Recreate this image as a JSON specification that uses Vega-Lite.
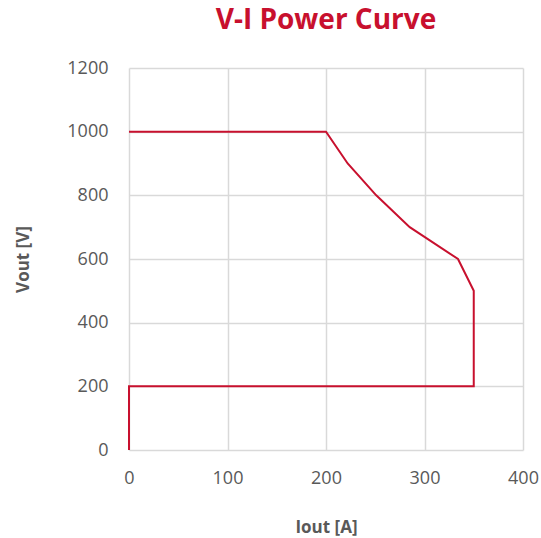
{
  "$schema": "https://vega.github.io/schema/vega-lite/v6.json",
  "width": 394,
  "height": 382,
  "autosize": {"type": "none"},
  "padding": {"left": 129, "top": 68, "right": 18, "bottom": 88},
  "background": "white",
  "title": {
    "text": "V-I Power Curve",
    "font": "Open Sans",
    "fontSize": 28,
    "fontWeight": "bold",
    "color": "#C8102E",
    "anchor": "middle",
    "offset": 24
  },
  "data": {
    "values": [
      {"i": 0, "v": 0, "o": 1},
      {"i": 0, "v": 200, "o": 2},
      {"i": 350, "v": 200, "o": 3},
      {"i": 350, "v": 500, "o": 4},
      {"i": 334, "v": 600, "o": 5},
      {"i": 285, "v": 700, "o": 6},
      {"i": 251, "v": 800, "o": 7},
      {"i": 222, "v": 900, "o": 8},
      {"i": 200, "v": 1000, "o": 9},
      {"i": 0, "v": 1000, "o": 10}
    ]
  },
  "mark": {"type": "line", "color": "#C8102E", "strokeWidth": 2},
  "encoding": {
    "x": {
      "field": "i",
      "type": "quantitative",
      "scale": {"domain": [0, 400], "nice": false},
      "axis": {
        "title": "Iout [A]",
        "values": [0, 100, 200, 300, 400],
        "format": "d",
        "labelFlush": false,
        "titleFont": "Open Sans", "titleFontSize": 17, "titleFontWeight": "bold", "titleColor": "#595959",
        "titlePadding": 32,
        "labelFont": "Open Sans", "labelFontSize": 18, "labelColor": "#595959", "labelPadding": 19,
        "domain": false, "ticks": false,
        "gridColor": "#D9D9D9", "gridWidth": 1.5
      }
    },
    "y": {
      "field": "v",
      "type": "quantitative",
      "scale": {"domain": [0, 1200], "nice": false},
      "axis": {
        "title": "Vout [V]",
        "values": [0, 200, 400, 600, 800, 1000, 1200],
        "format": "d",
        "labelFlush": false,
        "titleFont": "Open Sans", "titleFontSize": 17, "titleFontWeight": "bold", "titleColor": "#595959",
        "titlePadding": 34,
        "labelFont": "Open Sans", "labelFontSize": 18, "labelColor": "#595959", "labelPadding": 21,
        "domain": false, "ticks": false,
        "gridColor": "#D9D9D9", "gridWidth": 1.5
      }
    },
    "order": {"field": "o", "type": "quantitative"}
  },
  "config": {"view": {"stroke": null}}
}
